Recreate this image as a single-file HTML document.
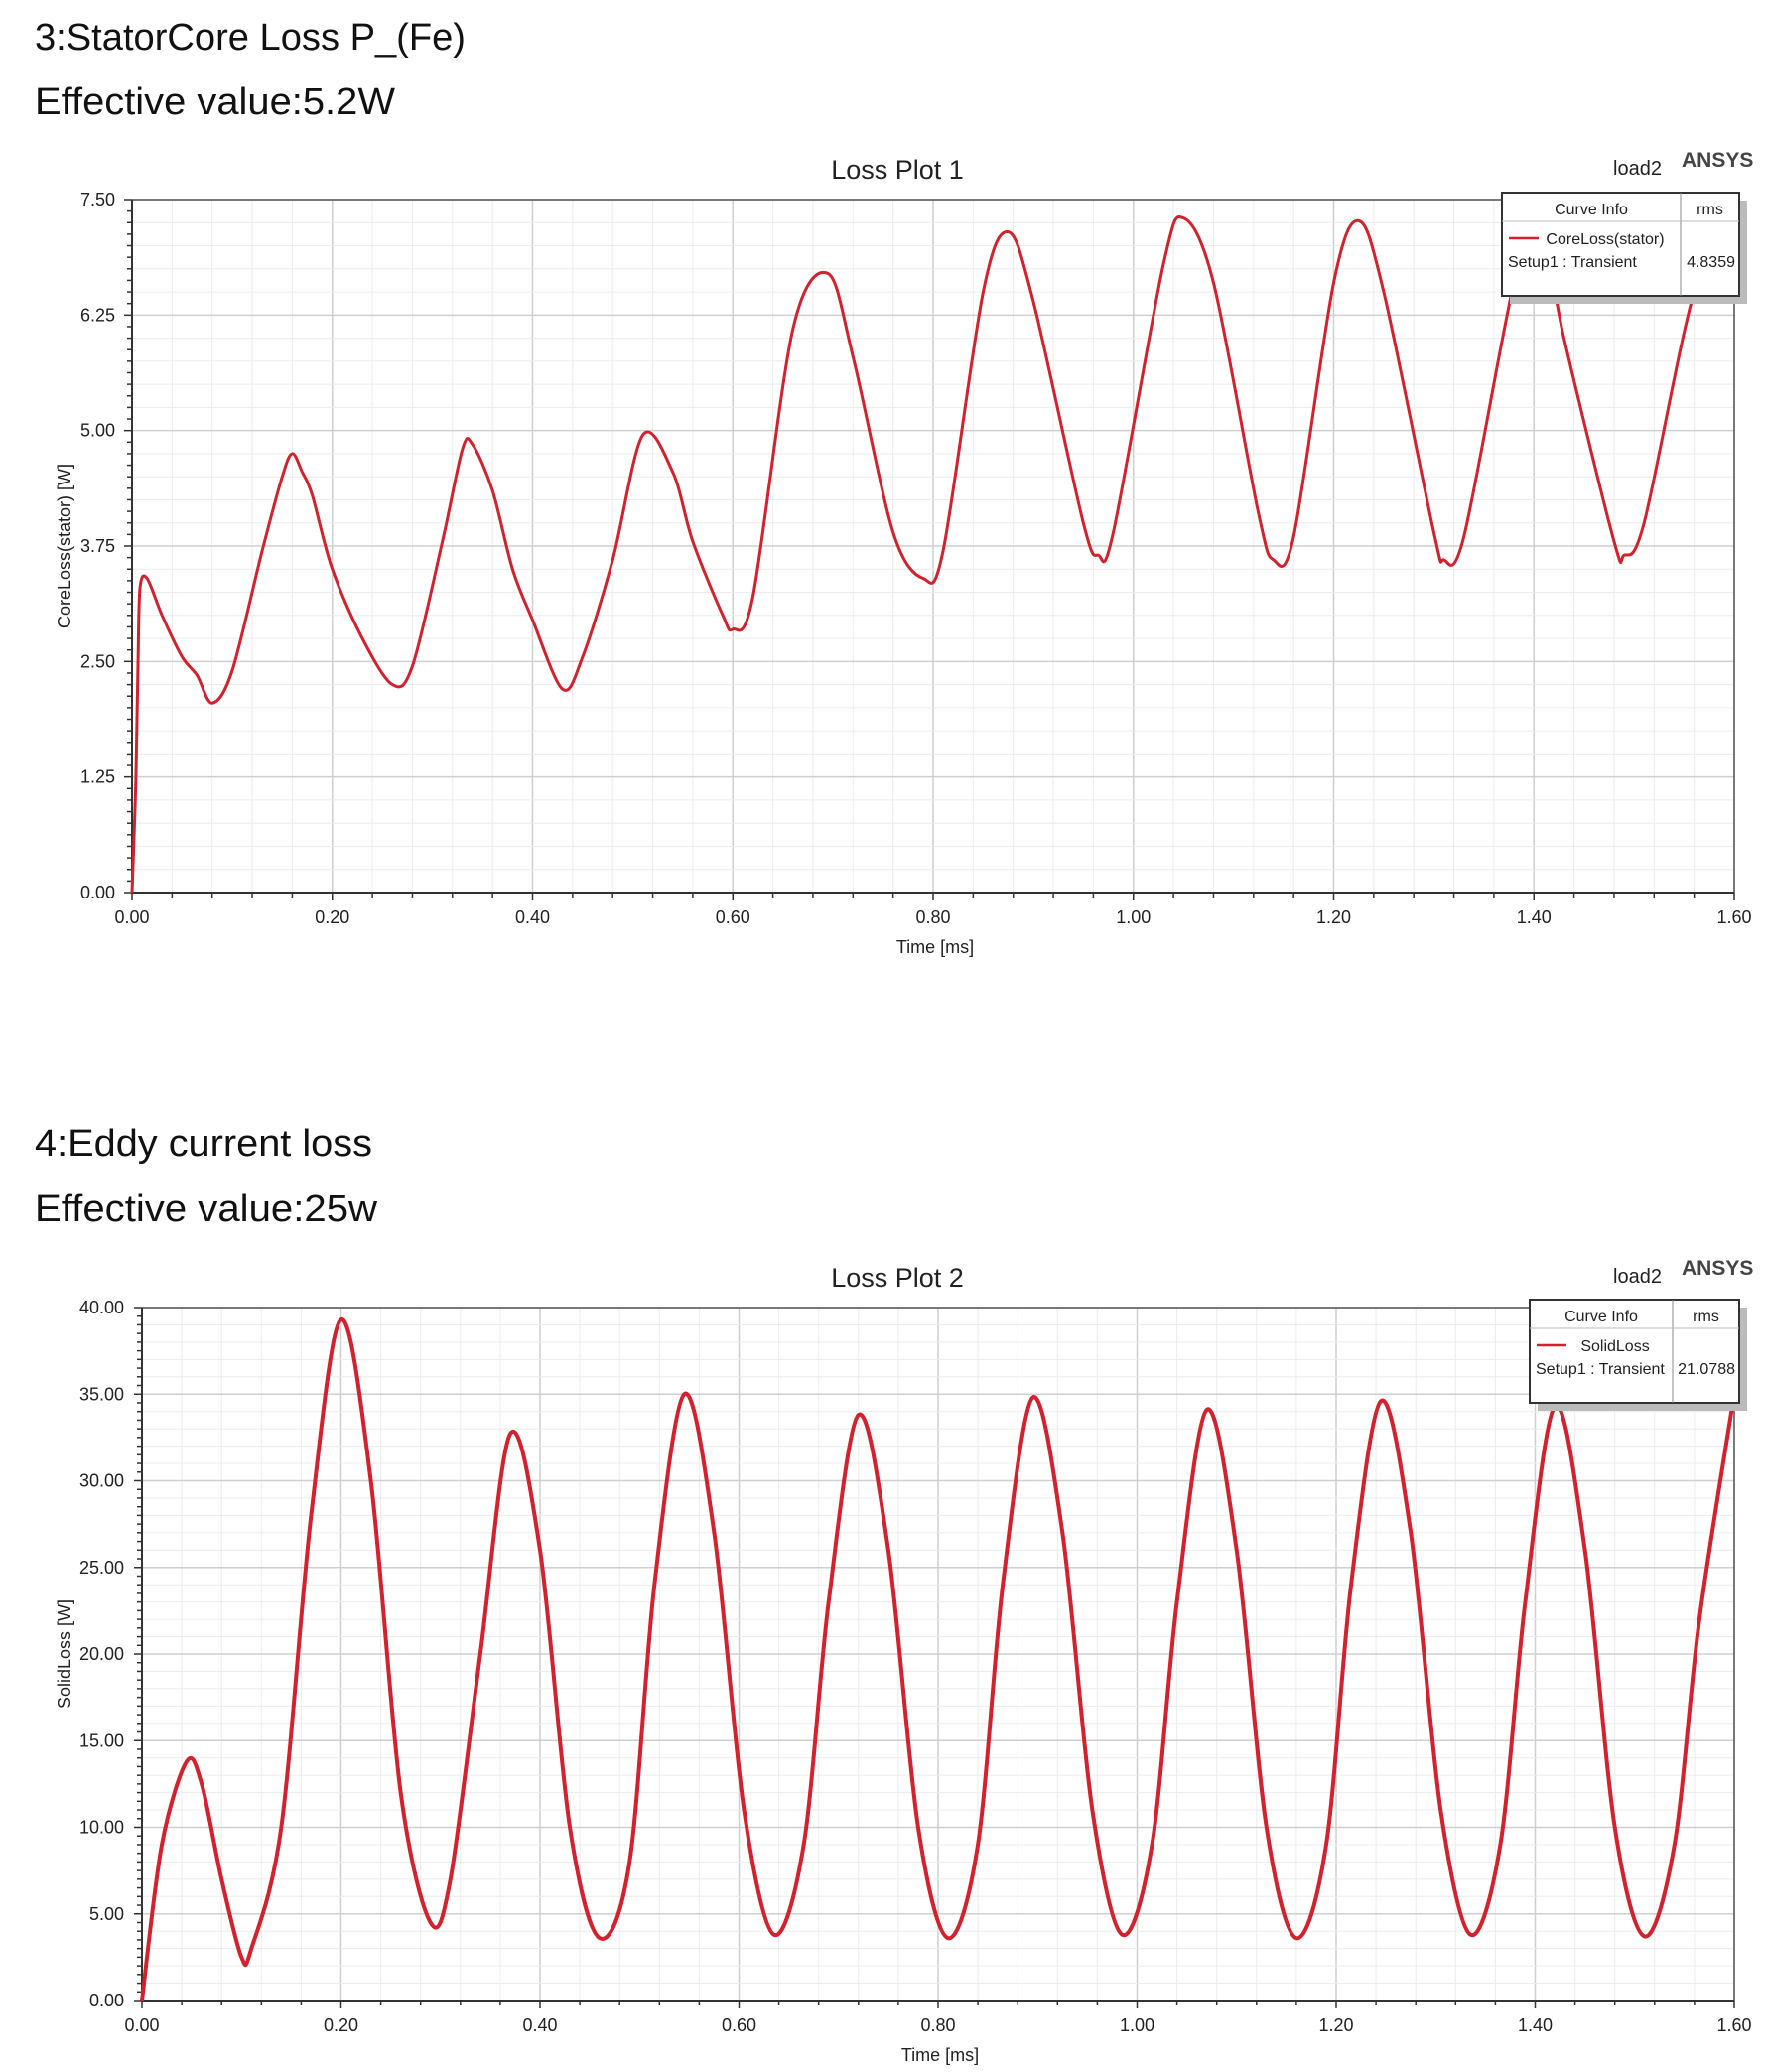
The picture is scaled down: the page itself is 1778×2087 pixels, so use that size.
<!DOCTYPE html>
<html><head><meta charset="utf-8"><style>
html,body{margin:0;padding:0;background:#fff;}
svg{display:block;}
text{font-family:"Liberation Sans",Arial,sans-serif;}
</style></head><body>
<svg id="root" width="1778" height="2087" viewBox="0 0 1778 2087" xmlns="http://www.w3.org/2000/svg">
<text x="35" y="50" font-size="38" fill="#111" textLength="434" lengthAdjust="spacingAndGlyphs">3:StatorCore Loss P_(Fe)</text>
<text x="35" y="115" font-size="38" fill="#111" textLength="363" lengthAdjust="spacingAndGlyphs">Effective value:5.2W</text>
<text x="35" y="1164" font-size="38" fill="#111" textLength="340" lengthAdjust="spacingAndGlyphs">4:Eddy current loss</text>
<text x="35" y="1230" font-size="38" fill="#111" textLength="345" lengthAdjust="spacingAndGlyphs">Effective value:25w</text>
<g id="plot1"></g>
<g id="plot2"></g>
</svg>
<script>
const xTicks = ["0.00","0.20","0.40","0.60","0.80","1.00","1.20","1.40","1.60"];
const p1YTicks = ["0.00","1.25","2.50","3.75","5.00","6.25","7.50"];
const p1Time = [0,0.002,0.004,0.006,0.008,0.015,0.03,0.05,0.065,0.08,0.1,0.13,0.15,0.16,0.17,0.18,0.2,0.23,0.26,0.28,0.31,0.33,0.34,0.36,0.38,0.4,0.43,0.45,0.48,0.51,0.54,0.56,0.59,0.6,0.62,0.66,0.695,0.72,0.76,0.79,0.81,0.85,0.875,0.9,0.95,0.965,0.98,1.03,1.05,1.08,1.125,1.14,1.16,1.2,1.225,1.25,1.3,1.31,1.33,1.38,1.405,1.43,1.48,1.49,1.51,1.56,1.6];
const p1Loss = [0,0.6,1.3,2.5,3.3,3.4,3.0,2.55,2.35,2.05,2.4,3.7,4.5,4.75,4.55,4.3,3.5,2.75,2.25,2.45,3.8,4.8,4.85,4.35,3.5,2.95,2.2,2.55,3.6,4.95,4.55,3.8,3.0,2.85,3.2,6.1,6.7,5.8,3.9,3.4,3.7,6.5,7.15,6.4,4.0,3.65,3.9,6.8,7.3,6.6,4.1,3.6,3.85,6.6,7.27,6.5,3.9,3.6,3.85,6.6,7.3,6.0,3.8,3.65,4.0,6.5,7.3];
const p2YTicks = ["0.00","5.00","10.00","15.00","20.00","25.00","30.00","35.00","40.00"];
const p2Time = [0,0.02,0.045,0.06,0.08,0.1,0.11,0.14,0.17,0.2,0.23,0.26,0.29,0.31,0.34,0.37,0.4,0.43,0.46,0.49,0.515,0.545,0.575,0.605,0.635,0.665,0.69,0.72,0.75,0.78,0.81,0.84,0.865,0.895,0.925,0.955,0.985,1.015,1.04,1.07,1.1,1.13,1.16,1.19,1.215,1.245,1.275,1.305,1.335,1.365,1.39,1.42,1.45,1.48,1.51,1.54,1.565,1.6];
const p2Loss = [0,9,13.8,12.5,7,2.5,3,10,28,39.3,30,12,4.5,7,20,32.7,26,10,3.6,8,24,35,27,11,3.8,9,23,33.8,26,10,3.6,9,24,34.8,27,11,3.8,9,23,34.1,26,10,3.6,9,24,34.6,27,11,3.8,9,23,34.3,26,10,3.7,9,22,35];

const NS="http://www.w3.org/2000/svg";
function mk(parent,tag,attrs,txt){const e=document.createElementNS(NS,tag);for(const k in attrs)e.setAttribute(k,attrs[k]);if(txt!==undefined)e.textContent=txt;parent.appendChild(e);return e;}
function curvePath(pts){let d="M"+pts[0][0]+","+pts[0][1];for(let i=0;i<pts.length-1;i++){const p0=pts[Math.max(0,i-1)],p1=pts[i],p2=pts[i+1],p3=pts[Math.min(pts.length-1,i+2)];const t=0.16;d+=" C"+(p1[0]+(p2[0]-p0[0])*t)+","+(p1[1]+(p2[1]-p0[1])*t)+" "+(p2[0]-(p3[0]-p1[0])*t)+","+(p2[1]-(p3[1]-p1[1])*t)+" "+p2[0]+","+p2[1];}return d;}

function drawPlot(g,cfg){
  const {L,R,T,B,yMax,yTicks,times,vals,title,ytitle,curveName,rms,lg,titleY,ylabX,sw}=cfg;
  const sx=t=>L+(t/1.6)*(R-L), sy=v=>B-(v/yMax)*(B-T);
  const grid=mk(g,"g",{});
  
  
  for(let i=0;i<=40;i++){const x=sx(i*0.04);mk(grid,"line",{x1:x,x2:x,y1:T,y2:B,stroke:i%5?"#ececec":"#cfcfcf","stroke-width":i%5?1:1.5});}
  const ny=(yTicks.length-1)*5;
  for(let i=0;i<=ny;i++){const y=sy(i*yMax/ny);mk(grid,"line",{x1:L,x2:R,y1:y,y2:y,stroke:i%5?"#ececec":"#cfcfcf","stroke-width":i%5?1:1.5});}
  mk(g,"line",{x1:L,x2:R,y1:T,y2:T,stroke:"#555","stroke-width":1.5});
  mk(g,"line",{x1:R,x2:R,y1:T,y2:B,stroke:"#555","stroke-width":1.5});
  mk(g,"line",{x1:L,x2:R,y1:B,y2:B,stroke:"#333","stroke-width":2});
  mk(g,"line",{x1:L,x2:L,y1:T,y2:B,stroke:"#333","stroke-width":2});
  for(let i=0;i<=40;i++){const x=sx(i*0.04);mk(g,"line",{x1:x,x2:x,y1:B,y2:B+(i%5?5:8),stroke:"#333","stroke-width":1.5});}
  for(let i=0;i<=ny*2;i++){const y=sy(i*yMax/(ny*2));mk(g,"line",{x1:L-(i%10?5:8),x2:L,y1:y,y2:y,stroke:"#333","stroke-width":1.5});}
  xTicks.forEach((s,i)=>{const t=mk(g,"text",{x:sx(i*0.2),y:B+31,"font-size":18,"text-anchor":"middle",fill:"#222"},s);
    
    });
  yTicks.forEach((s,i)=>{const t=mk(g,"text",{x:ylabX,y:sy(i*yMax/(yTicks.length-1))+6,"font-size":18,"text-anchor":"end",fill:"#222"},s);
    
    });
  const xt=mk(g,"text",{x:(L+R)/2+2,y:B+61,"font-size":18,"text-anchor":"middle",fill:"#222"},"Time [ms]");
  
  
  const yt=mk(g,"text",{x:0,y:0,"font-size":18,"text-anchor":"middle",fill:"#222",transform:`translate(71,${(T+B)/2}) rotate(-90)`},ytitle);
  
  
  const tt=mk(g,"text",{x:904,y:titleY,"font-size":27,"text-anchor":"middle",fill:"#222"},title);
  
  
  const ld=mk(g,"text",{x:1625,y:titleY-4,"font-size":20,fill:"#222"},"load2");
  
  
  const an=mk(g,"text",{x:1694,y:titleY-12,"font-size":21,"font-weight":"bold",fill:"#444"},"ANSYS");
  
  
  const pts=times.map((t,i)=>[sx(t),sy(vals[i])]);
  const line=mk(g,"path",{d:curvePath(pts),fill:"none",stroke:"#d3212d","stroke-width":sw,"stroke-linejoin":"round"});
  
  
  const leg=mk(g,"g",{});
  
  
  mk(leg,"rect",{x:lg.x+8,y:lg.y+8,width:lg.w,height:lg.h,fill:"#bbb"});
  mk(leg,"rect",{x:lg.x,y:lg.y,width:lg.w,height:lg.h,fill:"#fff",stroke:"#333","stroke-width":2});
  mk(leg,"line",{x1:lg.div,x2:lg.div,y1:lg.y,y2:lg.y+lg.h,stroke:"#888","stroke-width":1});
  mk(leg,"line",{x1:lg.x,x2:lg.x+lg.w,y1:lg.y+29,y2:lg.y+29,stroke:"#bbb","stroke-width":1});
  mk(leg,"text",{x:(lg.x+lg.div)/2,y:lg.y+22,"font-size":16,"text-anchor":"middle",fill:"#222"},"Curve Info");
  mk(leg,"text",{x:(lg.div+lg.x+lg.w)/2,y:lg.y+22,"font-size":16,"text-anchor":"middle",fill:"#222"},"rms");
  mk(leg,"line",{x1:lg.x+7,x2:lg.x+37,y1:lg.y+46,y2:lg.y+46,stroke:"#d3212d","stroke-width":2.5});
  mk(leg,"text",{x:(lg.x+lg.div)/2+14,y:lg.y+52,"font-size":16,"text-anchor":"middle",fill:"#222"},curveName);
  mk(leg,"text",{x:lg.x+6,y:lg.y+75,"font-size":16,fill:"#222"},"Setup1 : Transient");
  mk(leg,"text",{x:lg.x+lg.w-4,y:lg.y+75,"font-size":16,"text-anchor":"end",fill:"#222"},rms);
}
drawPlot(document.getElementById("plot1"),{L:133,R:1747,T:201,B:899,yMax:7.5,yTicks:p1YTicks,times:p1Time,vals:p1Loss,title:"Loss Plot 1",ytitle:"CoreLoss(stator) [W]",curveName:"CoreLoss(stator)",rms:"4.8359",lg:{x:1513,y:194,w:239,h:104,div:1693},titleY:180,ylabX:116,sw:3});
drawPlot(document.getElementById("plot2"),{L:143,R:1747,T:1317,B:2015,yMax:40,yTicks:p2YTicks,times:p2Time,vals:p2Loss,title:"Loss Plot 2",ytitle:"SolidLoss [W]",curveName:"SolidLoss",rms:"21.0788",lg:{x:1541,y:1309,w:211,h:104,div:1685},titleY:1296,ylabX:125,sw:4});
</script>
</body></html>
